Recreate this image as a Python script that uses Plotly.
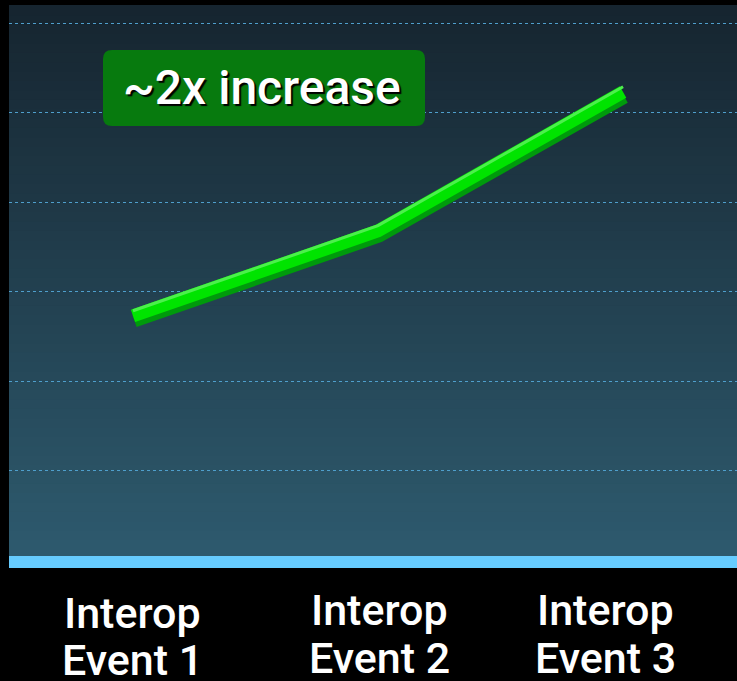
import plotly.graph_objects as go

# ---- data ----
events = [1, 2, 3]
label_line1 = ["Interop", "Interop", "Interop"]
label_line2 = ["Event 1", "Event 2", "Event 3"]
values = [2.73, 3.68, 5.23]
y_ticks = [1, 2, 3, 4, 5, 6]
callout_text = "~2x increase"

W, H = 737, 681
L, R, T, B = 9, 0, 6, 113
pw, ph = W - L - R, H - T - B

xr = [0.494, 3.465]
yr = [-0.083, 6.19]
px_x = pw / (xr[1] - xr[0])
px_y = ph / (yr[1] - yr[0])

fig = go.Figure()

# shadow / main / highlight of the thick green line
dx_sh, dy_sh = 1.5 / px_x, -5.0 / px_y
dy_hi = 5.2 / px_y
fig.add_trace(go.Scatter(x=[e + dx_sh for e in events], y=[v + dy_sh for v in values],
                         mode="lines", line=dict(color="#009a0c", width=13),
                         hoverinfo="skip", showlegend=False))
fig.add_trace(go.Scatter(x=events, y=values, mode="lines",
                         line=dict(color="#00e400", width=13),
                         hoverinfo="skip", showlegend=False))
fig.add_trace(go.Scatter(x=events, y=[v + dy_hi for v in values], mode="lines",
                         line=dict(color="#4cf04c", width=3),
                         hoverinfo="skip", showlegend=False))

shapes = []
# vertical gradient background
top_c = (0x16, 0x25, 0x30)
bot_c = (0x2e, 0x5b, 0x6f)
n = 60
for i in range(n):
    t = i / (n - 1)
    c = tuple(round(bot_c[k] + (top_c[k] - bot_c[k]) * t) for k in range(3))
    shapes.append(dict(type="rect", xref="paper", yref="paper",
                       x0=0, x1=1, y0=i / n, y1=(i + 1) / n + 0.002,
                       fillcolor="rgb(%d,%d,%d)" % c, line=dict(width=0),
                       layer="below"))
# light blue baseline band
shapes.append(dict(type="rect", xref="paper", yref="paper", x0=0, x1=1,
                   y0=0, y1=12 / ph, fillcolor="#66ccff", line=dict(width=0),
                   layer="above"))
# rounded callout box
bx0, bx1 = (103 - L) / pw, (425 - L) / pw
by0, by1 = (T + ph - 126) / ph, (T + ph - 50) / ph
rx, ry = 9 / pw, 9 / ph
path = (f"M {bx0+rx},{by0} L {bx1-rx},{by0} Q {bx1},{by0} {bx1},{by0+ry} "
        f"L {bx1},{by1-ry} Q {bx1},{by1} {bx1-rx},{by1} L {bx0+rx},{by1} "
        f"Q {bx0},{by1} {bx0},{by1-ry} L {bx0},{by0+ry} Q {bx0},{by0} {bx0+rx},{by0} Z")
shapes.append(dict(type="path", xref="paper", yref="paper", path=path,
                   fillcolor="#077a0e", line=dict(width=0), layer="above"))

annotations = [dict(xref="paper", yref="paper", x=(bx0 + bx1) / 2 - 2 / pw,
                    y=(by0 + by1) / 2, text=callout_text, showarrow=False,
                    xanchor="center", yanchor="middle",
                    font=dict(family="Roboto", size=48, color="white", weight=500,
                              shadow="2px 2px 1px #000000"))]

label_shift = [0, 1, -18]
for i, e in enumerate(events):
    y1 = 613 if i == 0 else 610
    y2 = 660 if i == 0 else 658
    for txt, py in ((label_line1[i], y1), (label_line2[i], y2)):
        annotations.append(dict(xref="x", yref="paper", x=e, xshift=label_shift[i],
                                y=(T + ph - py) / ph, text=txt, showarrow=False,
                                xanchor="center", yanchor="middle",
                                font=dict(family="Roboto", size=43, color="white",
                                          weight=500)))

fig.update_layout(
    width=W, height=H,
    margin=dict(l=L, r=R, t=T, b=B, pad=0),
    paper_bgcolor="black", plot_bgcolor="rgba(0,0,0,0)",
    shapes=shapes, annotations=annotations,
    xaxis=dict(range=xr, showgrid=False, zeroline=False, showticklabels=False,
               showline=False, fixedrange=True),
    yaxis=dict(range=yr, tickvals=y_ticks, showgrid=True, gridcolor="#4f9fcc",
               gridwidth=1, griddash="dot", zeroline=False, showticklabels=False,
               showline=False, fixedrange=True, layer="above traces"),
)

fig.write_html("out.html", config={"displayModeBar": False},
               post_script="document.body.style.margin='0';document.body.style.background='black';")
